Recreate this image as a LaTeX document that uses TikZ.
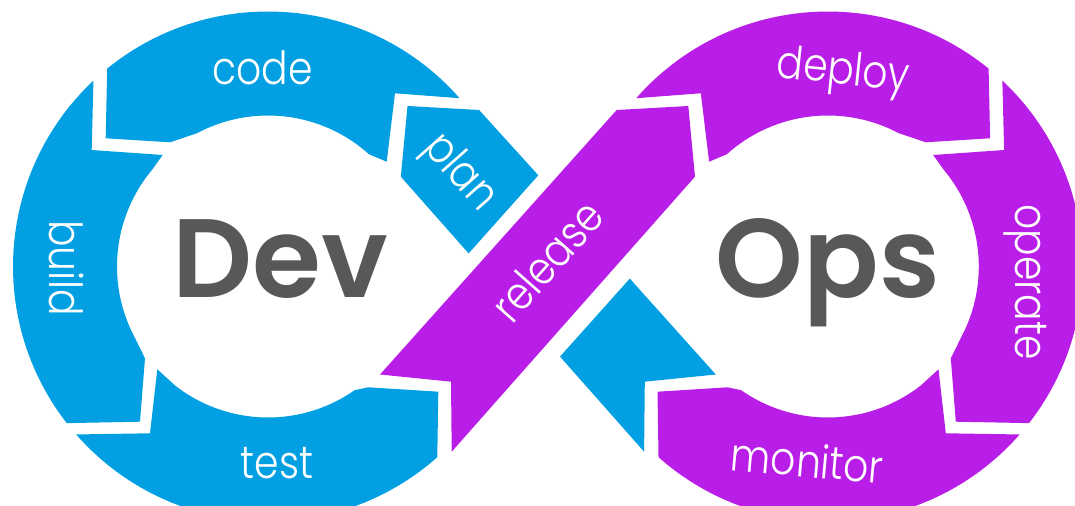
\documentclass[tikz,border=0pt]{standalone}
\usepackage{fontspec}
\usetikzlibrary{calc}
\newfontfamily\lblfont{Poppins Light}[FakeStretch=0.86]
\newfontfamily\bigfont{Poppins SemiBold}
\definecolor{devblue}{RGB}{2,160,226}
\definecolor{opspurple}{RGB}{184,30,231}
\definecolor{logogray}{RGB}{88,88,88}

% Centre of the left loop (pixel-like units, y pointing down)
\def\cx{268}
\def\cy{266.5}

% Three chevron segments of one loop: top, left side, bottom
\newcommand\looppieces[1]{%
  % top segment
  \fill[#1] ($(\cx,\cy)+(-41.3:255)$) arc[start angle=-41.3, end angle=-129.1, radius=255]
    -- (105.7,138.3) -- (170,142.3) -- ($(\cx,\cy)+(-118:151)$)
    arc[start angle=-118, end angle=-48, radius=151]
    -- (386.7,161.7) -- (395,93.3) -- cycle;
  % side segment
  \fill[#1] (91.7,150) -- ($(\cx,\cy)+(-133.2:255)$)
    arc[start angle=-133.2, end angle=-217.9, radius=255]
    -- (140,421.7) -- (145,358.3) -- ($(\cx,\cy)+(-208:151)$)
    arc[start angle=-208, end angle=-140, radius=151]
    -- (162.7,155) -- cycle;
  % bottom segment
  \fill[#1] (150,433.3) -- ($(\cx,\cy)+(138.8:255)$)
    arc[start angle=138.8, end angle=48.4, radius=255]
    -- (438.3,391.7) -- (368.3,387.3) -- ($(\cx,\cy)+(55:151)$)
    arc[start angle=55, end angle=128, radius=151]
    -- (157.3,369.3) -- cycle;
}

\begin{document}
\begin{tikzpicture}[x=0.02cm, y=-0.02cm,
  lbl/.style={text=white, font=\lblfont\fontsize{26}{26}\selectfont, inner sep=0pt, anchor=base},
  big/.style={text=logogray, font=\bigfont\fontsize{63.5}{63.5}\selectfont, inner sep=0pt, anchor=base}]

\useasboundingbox (0,0) rectangle (1075,506);
\clip (0,0) rectangle (1075,506);

% Dev loop
\looppieces{devblue}
% Ops loop: mirror image of the Dev loop
\begin{scope}[shift={(1095.8,0)}, xscale=-1]
  \looppieces{opspurple}
\end{scope}

% blue crossing band (monitor -> plan), cut where the release band passes over
\fill[devblue] (407.5,106) -- (479.1,110) -- (538.3,175.3) -- (468.6,253.4) -- (400.8,176.7) -- cycle;
\fill[devblue] (560,356.6) -- (629.8,278.6) -- (715.8,374.5) -- (644.8,381.7) -- (644.1,451.7) -- cycle;

% purple release band
\fill[opspurple] (380,374.5) -- (451,381.7) -- (451.7,451.7) -- (695,176.7) -- (688.3,106) -- (616.7,110) -- cycle;

% labels
\node[big] (dev) at (280,297.5) {Dev};
\node[big] (ops) at (828,297.5) {Ops};
\node[lbl] (code) at (262.6,84.4) {code};
\node[lbl, rotate=-48.5] (plan) at (450.8,180.7) {plan};
\node[lbl, rotate=-90] (build) at (50,268.3) {build};
\node[lbl] (test) at (277,478.5) {test};
\node[lbl, rotate=48.5] (release) at (559.6,271.5) {release};
\node[lbl, rotate=-6] (deploy) at (842,84) {deploy};
\node[lbl, rotate=-90] (operate) at (1015,282) {operate};
\node[lbl, rotate=-5] (monitor) at (806,477) {monitor};
\end{tikzpicture}
\end{document}
